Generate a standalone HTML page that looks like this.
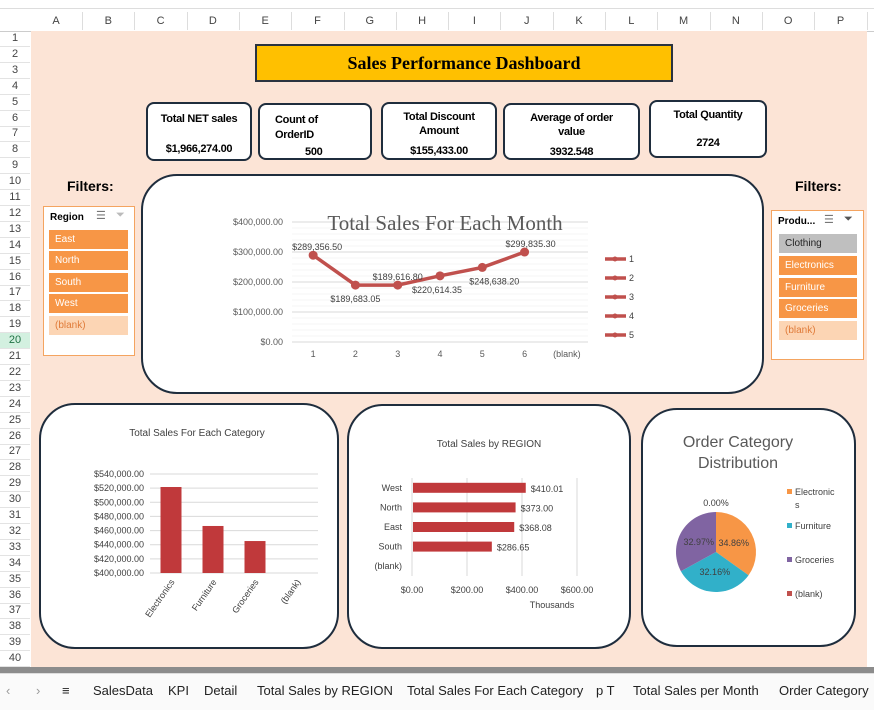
<!DOCTYPE html>
<html><head><meta charset="utf-8">
<style>
body{margin:0;width:874px;height:709px;overflow:hidden;background:#fff;font-family:"Liberation Sans",sans-serif;position:relative}
.abs{position:absolute}
.colh{position:absolute;top:12px;height:18px;font-size:11px;color:#444;text-align:center;line-height:18px;border-right:1px solid #ddd}
.rowh{position:absolute;left:0;width:30px;font-size:11px;color:#444;text-align:center;border-bottom:1px solid #e3e3e3}
.kpi{position:absolute;background:#fff;border:2px solid #1f2d3d;border-radius:8px;font-size:11px;font-weight:bold;text-align:center;box-sizing:border-box;letter-spacing:-0.3px}
.card{position:absolute;background:#fff;border:2px solid #1f2d3d;border-radius:36px;box-sizing:border-box}
.slicer{position:absolute;background:#fff;border:1px solid #f4a460;box-sizing:border-box}
.item{position:absolute;height:19px;font-size:10px;color:#fff;line-height:19px;padding-left:6px;box-sizing:border-box;background:#f79646}
.tab{position:absolute;top:683px;font-size:13px;color:#222}
</style></head><body>
<div class="abs" style="left:0;top:0;width:874px;height:8px;background:#fff;border-bottom:1px solid #ddd"></div>
<div class="abs" style="left:0;top:10px;width:874px;height:21px;background:#fff;border-bottom:1px solid #ccc"></div>
<div id="cols"></div>
<div class="abs" style="left:31px;top:31px;width:836px;height:636px;background:#fce4d6"></div>
<div id="rows"></div>

<div class="abs" style="left:255px;top:44px;width:418px;height:38px;background:#ffc000;border:2px solid #2a3340;box-sizing:border-box;text-align:center;line-height:34px;font-family:'Liberation Serif',serif;font-weight:bold;font-size:18px">Sales Performance Dashboard</div>

<div class="kpi" style="left:146px;top:102px;width:106px;height:59px"><div style="margin-top:9px">Total NET sales</div><div style="margin-top:18px">$1,966,274.00</div></div>
<div class="kpi" style="left:258px;top:103px;width:114px;height:57px;text-align:left"><div style="margin:8px 0 0 15px;line-height:15px">Count of<br>OrderID</div><div style="margin:3px 0 0 45px">500</div></div>
<div class="kpi" style="left:381px;top:102px;width:116px;height:58px"><div style="margin-top:6px;line-height:14px">Total Discount<br>Amount</div><div style="margin-top:7px">$155,433.00</div></div>
<div class="kpi" style="left:503px;top:103px;width:137px;height:57px"><div style="margin-top:6px;line-height:14px">Average of order<br>value</div><div style="margin-top:7px">3932.548</div></div>
<div class="kpi" style="left:649px;top:100px;width:118px;height:58px"><div style="margin-top:7px">Total Quantity</div><div style="margin-top:16px">2724</div></div>

<div class="abs" style="left:67px;top:178px;font-size:14px;font-weight:bold">Filters:</div>
<div class="abs" style="left:795px;top:178px;font-size:14px;font-weight:bold">Filters:</div>

<div class="slicer" style="left:43px;top:206px;width:92px;height:150px">
 <div class="abs" style="left:6px;top:5px;font-size:10px;font-weight:bold">Region</div>
 <div class="abs" style="left:52px;top:2px;font-size:11px;color:#777">☰</div>
 <div class="abs" style="left:72px;top:2px;font-size:11px;color:#bbb">⏷</div>
 <div class="item" style="left:5px;top:23px;width:79px">East</div>
 <div class="item" style="left:5px;top:44px;width:79px">North</div>
 <div class="item" style="left:5px;top:66px;width:79px">South</div>
 <div class="item" style="left:5px;top:87px;width:79px">West</div>
 <div class="item" style="left:5px;top:109px;width:79px;background:#fcd5b4;color:#e07b39">(blank)</div>
</div>
<div class="slicer" style="left:771px;top:210px;width:93px;height:150px">
 <div class="abs" style="left:6px;top:5px;font-size:10px;font-weight:bold">Produ...</div>
 <div class="abs" style="left:52px;top:2px;font-size:11px;color:#777">☰</div>
 <div class="abs" style="left:72px;top:2px;font-size:11px;color:#555">⏷</div>
 <div class="item" style="left:7px;top:23px;width:78px;background:#bfbfbf;color:#222">Clothing</div>
 <div class="item" style="left:7px;top:45px;width:78px">Electronics</div>
 <div class="item" style="left:7px;top:67px;width:78px">Furniture</div>
 <div class="item" style="left:7px;top:88px;width:78px">Groceries</div>
 <div class="item" style="left:7px;top:110px;width:78px;background:#fcd5b4;color:#e07b39">(blank)</div>
</div>

<div class="card" style="left:141px;top:174px;width:623px;height:220px"></div>
<div class="card" style="left:39px;top:403px;width:300px;height:246px"></div>
<div class="card" style="left:347px;top:404px;width:284px;height:245px"></div>
<div class="card" style="left:641px;top:408px;width:215px;height:239px"></div>

<svg id="charts" class="abs" style="left:0;top:0" width="874" height="709"></svg>

<div class="abs" style="left:0;top:667px;width:874px;height:6px;background:#8c8c8c"></div>
<div class="abs" style="left:0;top:673px;width:874px;height:36px;background:#fafafa;border-top:1px solid #ddd"></div>
<div class="tab" style="left:6px;color:#999">‹</div>
<div class="tab" style="left:36px;color:#999">›</div>
<div class="tab" style="left:62px">≡</div>
<div class="tab" style="left:93px">SalesData</div>
<div class="tab" style="left:168px">KPI</div>
<div class="tab" style="left:204px">Detail</div>
<div class="tab" style="left:257px">Total Sales by REGION</div>
<div class="tab" style="left:407px">Total Sales For Each Category</div>
<div class="tab" style="left:596px">p T</div>
<div class="tab" style="left:633px">Total Sales per Month</div>
<div class="tab" style="left:779px">Order Category</div>

<script>
// ---------- chart data ----------
const months = ["1","2","3","4","5","6","(blank)"];
const monthSales = [289356.50,189683.05,189616.80,220614.35,248638.20,299835.30];
const monthTicks = [0,100000,200000,300000,400000];
const legendItems = ["1","2","3","4","5"];
const categories = ["Electronics","Furniture","Groceries","(blank)"];
const categorySales = [521600,466500,445200];
const categoryTicks = [400000,420000,440000,460000,480000,500000,520000,540000];
const regions = ["West","North","East","South","(blank)"];
const regionSales = [410.01,373.00,368.08,286.65];
const regionTicks = [0,200,400,600];
const pieLabels = ["Electronics","Furniture","Groceries","(blank)"];
const pieShares = [34.86,32.16,32.97,0];
const pieColors = ["#f79646","#31b0c9","#8064a2","#c0504d"];

// ---------- grid headers ----------
const colLetters="ABCDEFGHIJKLMNOP".split("");
const cols=document.getElementById('cols');
colLetters.forEach((c,i)=>{const d=document.createElement('div');d.className='colh';d.style.left=(30+i*52.3)+'px';d.style.width='52px';d.textContent=c;


cols.appendChild(d);});
const rows=document.getElementById('rows');
for(let r=1;r<=40;r++){const d=document.createElement('div');d.className='rowh';const t=31+(r-1)*15.9;d.style.top=t+'px';d.style.height='15px';d.style.lineHeight='15px';d.textContent=r;
if(r===20){d.style.background='#d3f0e0';d.style.color='#217346';}


rows.appendChild(d);}

// ---------- svg helpers ----------
const svg=document.getElementById('charts');const NS='http://www.w3.org/2000/svg';
function mk(tag,attrs,text){const e=document.createElementNS(NS,tag);for(const k in attrs)e.setAttribute(k,attrs[k]);if(text!==undefined)e.textContent=text;svg.appendChild(e);return e;}
const fmt=(v,d)=>'$'+v.toLocaleString('en-US',{minimumFractionDigits:d,maximumFractionDigits:d});

// ---------- line chart ----------
{const x0=292,x1=588,yTop=222,yBot=342,max=400000;
const xs=i=>x0+(i+0.5)*(x1-x0)/months.length;const ys=v=>yBot-(v/max)*(yBot-yTop);
for(let v=0;v<=max;v+=20000){const l=mk('line',{x1:x0,x2:x1,y1:ys(v),y2:ys(v),stroke:v%100000===0?'#d9d9d9':'#f4f4f4','stroke-width':1});

}
monthTicks.forEach(v=>{const t=mk('text',{x:283,y:ys(v)+3,'text-anchor':'end','font-size':9,fill:'#595959'},fmt(v,2));

});
months.forEach((m,i)=>{const t=mk('text',{x:xs(i),y:357,'text-anchor':'middle','font-size':9,fill:'#595959'},m);

});
const tt=mk('text',{x:445,y:230,'text-anchor':'middle','font-size':21,fill:'#595959','font-family':'Liberation Serif, serif'},'Total Sales For Each Month');


const pts=monthSales.map((v,i)=>xs(i)+','+ys(v)).join(' ');
const pl=mk('polyline',{points:pts,fill:'none',stroke:'#c0504d','stroke-width':3.5});


const off=[[4,-8],[0,14],[0,-8],[-3,14],[12,14],[6,-8]];
monthSales.forEach((v,i)=>{const c=mk('circle',{cx:xs(i),cy:ys(v),r:4.5,fill:'#c0504d'});


const t=mk('text',{x:xs(i)+off[i][0],y:ys(v)+off[i][1]+3,'text-anchor':'middle','font-size':9,fill:'#404040'},fmt(v,2));

});
legendItems.forEach((s,i)=>{const y=259+i*19;const l=mk('line',{x1:605,x2:626,y1:y,y2:y,stroke:'#c0504d','stroke-width':3.5});


const c=mk('circle',{cx:615,cy:y,r:2.5,fill:'#c0504d'});


const t=mk('text',{x:629,y:y+3,'font-size':9,fill:'#404040'},s);

});}

// ---------- category column chart ----------
{const x0=150,x1=318,yTop=474,yBot=573,min=400000,max=540000;
const band=(x1-x0)/categories.length;const ys=v=>yBot-(v-min)/(max-min)*(yBot-yTop);
const t0=mk('text',{x:197,y:436,'text-anchor':'middle','font-size':10,fill:'#404040'},'Total Sales For Each Category');


categoryTicks.forEach(v=>{const l=mk('line',{x1:x0,x2:x1,y1:ys(v),y2:ys(v),stroke:'#d9d9d9'});


const t=mk('text',{x:144,y:ys(v)+3,'text-anchor':'end','font-size':9,fill:'#404040'},fmt(v,2));

});
categorySales.forEach((v,i)=>{const bx=x0+i*band+(band-21)/2;const r=mk('rect',{x:bx,y:ys(v),width:21,height:yBot-ys(v),fill:'#c0393b'});

});
categories.forEach((c,i)=>{const cx=x0+(i+0.5)*band+4;const t=mk('text',{x:cx,y:582,'text-anchor':'end','font-size':9,fill:'#404040',transform:`rotate(-55 ${cx} 582)`},c);

});}

// ---------- region bar chart ----------
{const x0=412,yTop=478,yBot=576,scale=55/200;const band=(yBot-yTop)/regions.length;
const t0=mk('text',{x:489,y:447,'text-anchor':'middle','font-size':10,fill:'#404040'},'Total Sales by REGION');


regionTicks.forEach(v=>{const x=x0+v*scale;const l=mk('line',{x1:x,x2:x,y1:yTop,y2:yBot,stroke:'#d9d9d9'});


const t=mk('text',{x:x,y:593,'text-anchor':'middle','font-size':9,fill:'#404040'},fmt(v,2));

});
regions.forEach((r,i)=>{const cy=yTop+(i+0.5)*band;const t=mk('text',{x:402,y:cy+3,'text-anchor':'end','font-size':9,fill:'#404040'},r);

});
regionSales.forEach((v,i)=>{const cy=yTop+(i+0.5)*band;const r=mk('rect',{x:x0+1,y:cy-5,width:v*scale,height:10,fill:'#c0393b'});


const t=mk('text',{x:x0+v*scale+6,y:cy+4,'font-size':9,fill:'#404040'},fmt(v,2));

});
const th=mk('text',{x:552,y:608,'text-anchor':'middle','font-size':9,fill:'#404040'},'Thousands');

}

// ---------- pie ----------
{const cx=716,cy=552,r=40;
const t1=mk('text',{x:738,y:447,'text-anchor':'middle','font-size':16,fill:'#595959'},'Order Category');


const t2=mk('text',{x:738,y:468,'text-anchor':'middle','font-size':16,fill:'#595959'},'Distribution');


const total=pieShares.reduce((a,b)=>a+b,0);let a=-Math.PI/2;
pieShares.forEach((s,i)=>{if(s<=0)return;const a2=a+s/total*2*Math.PI;
const p=mk('path',{d:`M${cx},${cy}L${cx+r*Math.cos(a)},${cy+r*Math.sin(a)}A${r},${r} 0 ${a2-a>Math.PI?1:0} 1 ${cx+r*Math.cos(a2)},${cy+r*Math.sin(a2)}Z`,fill:pieColors[i]});


const m=(a+a2)/2;const t=mk('text',{x:cx+r*0.5*Math.cos(m),y:cy+r*0.5*Math.sin(m)+3,'text-anchor':'middle','font-size':9,fill:'#404040'},s.toFixed(2)+'%');


a=a2;});
const z=mk('text',{x:716,y:506,'text-anchor':'middle','font-size':9,fill:'#404040'},'0.00%');


const ly=[493,527,561,595];
pieLabels.forEach((l,i)=>{const r2=mk('rect',{x:787,y:ly[i]-4,width:5,height:5,fill:pieColors[i]});


const t=mk('text',{x:795,y:ly[i]+2,'font-size':9,fill:'#404040'},l==='Electronics'?'Electronic':l);


if(l==='Electronics'){const t3=mk('text',{x:795,y:ly[i]+15,'font-size':9,fill:'#404040'},'s');

}});}
</script>
</body></html>
